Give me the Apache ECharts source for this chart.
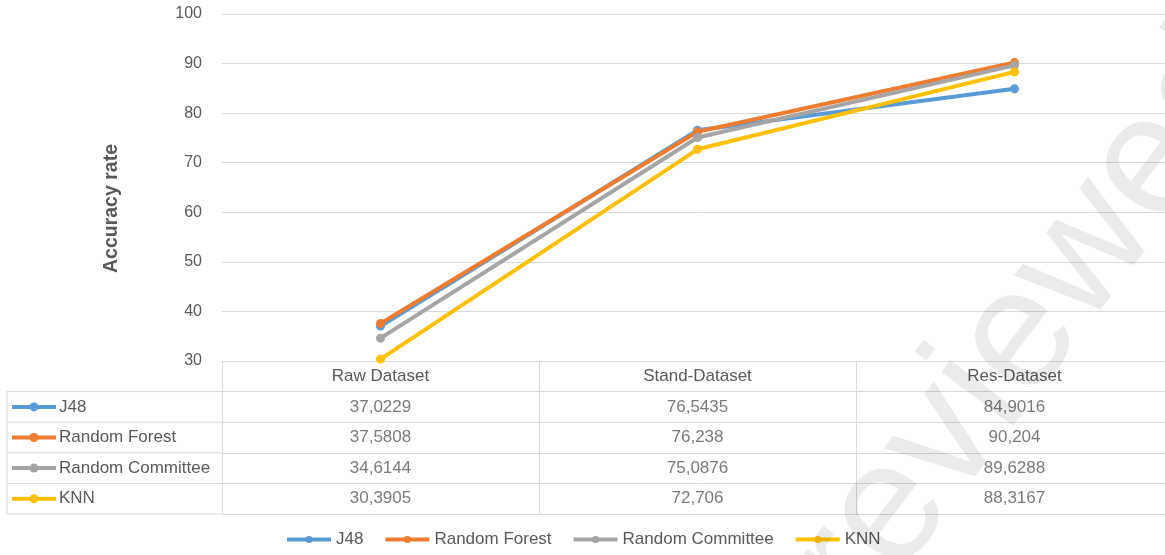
<!DOCTYPE html>
<html style="height: 100%">
<head>
<meta charset="utf-8">
<script src="https://cdn.jsdelivr.net/npm/echarts@6/dist/echarts.min.js"></script>
</head>
<body style="height: 100%; margin: 0; background: #fff; overflow: hidden">
<div id="container" style="width: 1173px; height: 555px"></div>
<script type="text/javascript">
// data
var categories = ['Raw Dataset', 'Stand-Dataset', 'Res-Dataset'];
var seriesNames = ['J48', 'Random Forest', 'Random Committee', 'KNN'];
var j48 = [37.0229, 76.5435, 84.9016];
var randomForest = [37.5808, 76.238, 90.204];
var randomCommittee = [34.6144, 75.0876, 89.6288];
var knn = [30.3905, 72.706, 88.3167];
var yMin = 30, yMax = 100, yStep = 10;

var seriesValues = [j48, randomForest, randomCommittee, knn];
var colors = ['#5B9BD5', '#ED7D31', '#A5A5A5', '#FFC000'];
var textColor = '#595959';
var gridColor = '#D9D9D9';
var font = 'Liberation Sans, Arial, sans-serif';

// layout of plot + data table (container is a bit wider than the window,
// so the last column runs past the right edge like in the original)
var plotLeft = 222, plotTop = 14, plotRight = 0, plotHeight = 347;
var tableTop = plotTop + plotHeight;
var rowH = 30.6;
var tableRows = [''].concat(seriesNames);
var tableHeight = rowH * tableRows.length;
var tableLeft = 7;

var dom = document.getElementById('container');
var myChart = echarts.init(dom);

var lineSeries = seriesNames.map(function (name, i) {
    return {
        name: name,
        type: 'line',
        xAxisIndex: 0,
        yAxisIndex: 0,
        data: seriesValues[i],
        symbol: 'circle',
        symbolSize: 9,
        lineStyle: { width: 4, color: colors[i] },
        itemStyle: { color: colors[i] },
        animation: false
    };
});

// table cells
var cellData = [];
seriesValues.forEach(function (vals, i) {
    vals.forEach(function (v, j) {
        cellData.push([j, i + 1, v]);
    });
});

var graphics = [];
// left column lines of the table
for (var r = 1; r <= tableRows.length; r++) {
    graphics.push({
        type: 'line', silent: true,
        shape: { x1: tableLeft, y1: tableTop + r * rowH, x2: plotLeft, y2: tableTop + r * rowH },
        style: { stroke: gridColor, lineWidth: 1 }
    });
}
graphics.push({
    type: 'line', silent: true,
    shape: { x1: tableLeft, y1: tableTop + rowH, x2: tableLeft, y2: tableTop + tableHeight },
    style: { stroke: gridColor, lineWidth: 1 }
});
// legend keys inside the table
seriesNames.forEach(function (name, i) {
    var cy = tableTop + (i + 1.5) * rowH;
    graphics.push({
        type: 'line', silent: true,
        shape: { x1: 12, y1: cy, x2: 56, y2: cy },
        style: { stroke: colors[i], lineWidth: 4 }
    });
    graphics.push({
        type: 'circle', silent: true,
        shape: { cx: 34, cy: cy, r: 4.5 },
        style: { fill: colors[i] }
    });
});
// watermark
graphics.push({
    type: 'text', silent: true, z: 100,
    x: 1236, y: 52,
    rotation: 53 * Math.PI / 180,
    style: {
        text: 'Preprint not peer reviewed',
        fontSize: 170,
        fontFamily: font,
        fill: 'rgba(0,0,0,0.08)',
        align: 'right',
        verticalAlign: 'middle'
    }
});

var option = {
    backgroundColor: '#fff',
    textStyle: { fontFamily: font },
    legend: {
        data: seriesNames,
        bottom: 2,
        left: 280,
        itemWidth: 44,
        itemHeight: 9,
        itemGap: 20,
        lineStyle: { width: 4 },
        textStyle: { color: textColor, fontSize: 17, fontFamily: font }
    },
    grid: [
        { left: plotLeft, top: plotTop, right: plotRight, height: plotHeight },
        { left: plotLeft, top: tableTop, right: plotRight, height: tableHeight }
    ],
    xAxis: [
        {
            gridIndex: 0,
            type: 'category',
            data: categories,
            boundaryGap: true,
            axisLine: { lineStyle: { color: gridColor } },
            axisTick: { show: false },
            axisLabel: { color: textColor, fontSize: 17, margin: 7 }
        },
        {
            gridIndex: 1,
            type: 'category',
            data: categories,
            boundaryGap: true,
            axisLine: { show: false },
            axisTick: { show: false },
            axisLabel: { show: false },
            splitLine: { show: true, lineStyle: { color: gridColor } }
        }
    ],
    yAxis: [
        {
            gridIndex: 0,
            type: 'value',
            min: yMin,
            max: yMax,
            interval: yStep,
            axisLine: { show: false },
            axisTick: { show: false },
            splitLine: { lineStyle: { color: gridColor } },
            axisLabel: { color: textColor, fontSize: 16, margin: 20 },
            name: 'Accuracy rate',
            nameLocation: 'middle',
            nameGap: 100,
            nameTextStyle: { color: textColor, fontSize: 19.5, fontWeight: 'bold', padding: [0, 42, 0, 0] }
        },
        {
            gridIndex: 1,
            type: 'category',
            data: tableRows,
            inverse: true,
            axisLine: { show: false },
            axisTick: { show: false },
            splitLine: { show: true, lineStyle: { color: gridColor } },
            axisLabel: { color: textColor, fontSize: 17, align: 'left', margin: plotLeft - 59 }
        }
    ],
    graphic: graphics,
    series: lineSeries.concat([{
        name: 'table',
        type: 'scatter',
        xAxisIndex: 1,
        yAxisIndex: 1,
        data: cellData,
        symbolSize: 1,
        itemStyle: { color: 'transparent' },
        silent: true,
        animation: false,
        label: {
            show: true,
            position: 'inside',
            color: textColor,
            fontSize: 17,
            formatter: function (p) { return String(p.value[2]).replace('.', ','); }
        }
    }])
};

myChart.setOption(option);
</script>
</body>
</html>
